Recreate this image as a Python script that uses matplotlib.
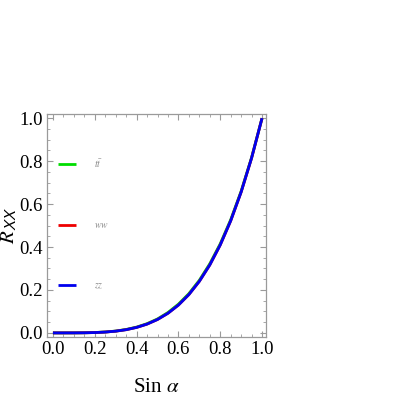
import matplotlib

matplotlib.use("Agg")
import matplotlib.pyplot as plt
from matplotlib.ticker import MultipleLocator

# data
sin_alpha = [0.0, 0.05, 0.1, 0.15, 0.2, 0.25, 0.3, 0.35, 0.4, 0.45, 0.5,
             0.55, 0.6, 0.65, 0.7, 0.75, 0.8, 0.85, 0.9, 0.95, 1.0]
r_tt = [0.0, 0.0, 0.0001, 0.0006, 0.0018, 0.0042, 0.0086, 0.016, 0.027, 0.043, 0.065,
        0.095, 0.134, 0.183, 0.245, 0.322, 0.415, 0.527, 0.660, 0.817, 1.0]
r_ww = [0.0, 0.0, 0.0001, 0.0005, 0.0016, 0.0039, 0.0081, 0.015, 0.0256, 0.041, 0.0625,
        0.0915, 0.1296, 0.1785, 0.2401, 0.3164, 0.4096, 0.522, 0.6561, 0.8145, 1.0]
r_zz = [0.0, 0.0, 0.0001, 0.0005, 0.0016, 0.0039, 0.0081, 0.015, 0.0256, 0.041, 0.0625,
        0.0915, 0.1296, 0.1785, 0.2401, 0.3164, 0.4096, 0.522, 0.6561, 0.8145, 1.0]
labels = [r"$t\bar{t}$", r"$ww$", r"$zz$"]
colors = ["#00dd00", "#ee0000", "#0000ee"]

FRAME = "#9a9a9a"
plt.rcParams["font.family"] = "Liberation Serif"
plt.rcParams["mathtext.fontset"] = "stix"

fig = plt.figure(figsize=(4.15, 4.15), dpi=100)
ax = fig.add_axes([0.113, 0.188, 0.528, 0.537])

lines = []
for ys, c, lab in zip([r_tt, r_ww, r_zz], colors, labels):
    (ln,) = ax.plot(sin_alpha, ys, color=c, lw=2.0, label=lab, solid_capstyle="butt")
    lines.append(ln)

ax.set_xlim(-0.029, 1.019)
ax.set_ylim(-0.019, 1.019)
ax.xaxis.set_major_locator(MultipleLocator(0.2))
ax.yaxis.set_major_locator(MultipleLocator(0.2))
ax.xaxis.set_minor_locator(MultipleLocator(0.05))
ax.yaxis.set_minor_locator(MultipleLocator(0.05))
ax.tick_params(which="both", direction="in", top=True, right=True, color=FRAME,
               labelsize=13.5, pad=3)
ax.tick_params(which="major", length=4, width=0.8)
ax.tick_params(which="minor", length=2, width=0.6)
for s in ax.spines.values():
    s.set_color(FRAME)
    s.set_linewidth(0.9)

ax.set_xlabel(r"Sin $\alpha$", fontsize=15, labelpad=14)
ax.set_ylabel(r"$R_{\mathsf{XX}}$", fontsize=15)
ax.yaxis.set_label_coords(-0.125, 0.5)

leg = ax.legend(handles=lines, loc="upper left", bbox_to_anchor=(0.035, 0.825),
                frameon=False, fontsize=7, labelspacing=5.3, handlelength=1.8,
                handletextpad=1.9, borderaxespad=0)
for t in leg.get_texts():
    t.set_color("#888888")

fig.savefig("out.png", dpi=100)
